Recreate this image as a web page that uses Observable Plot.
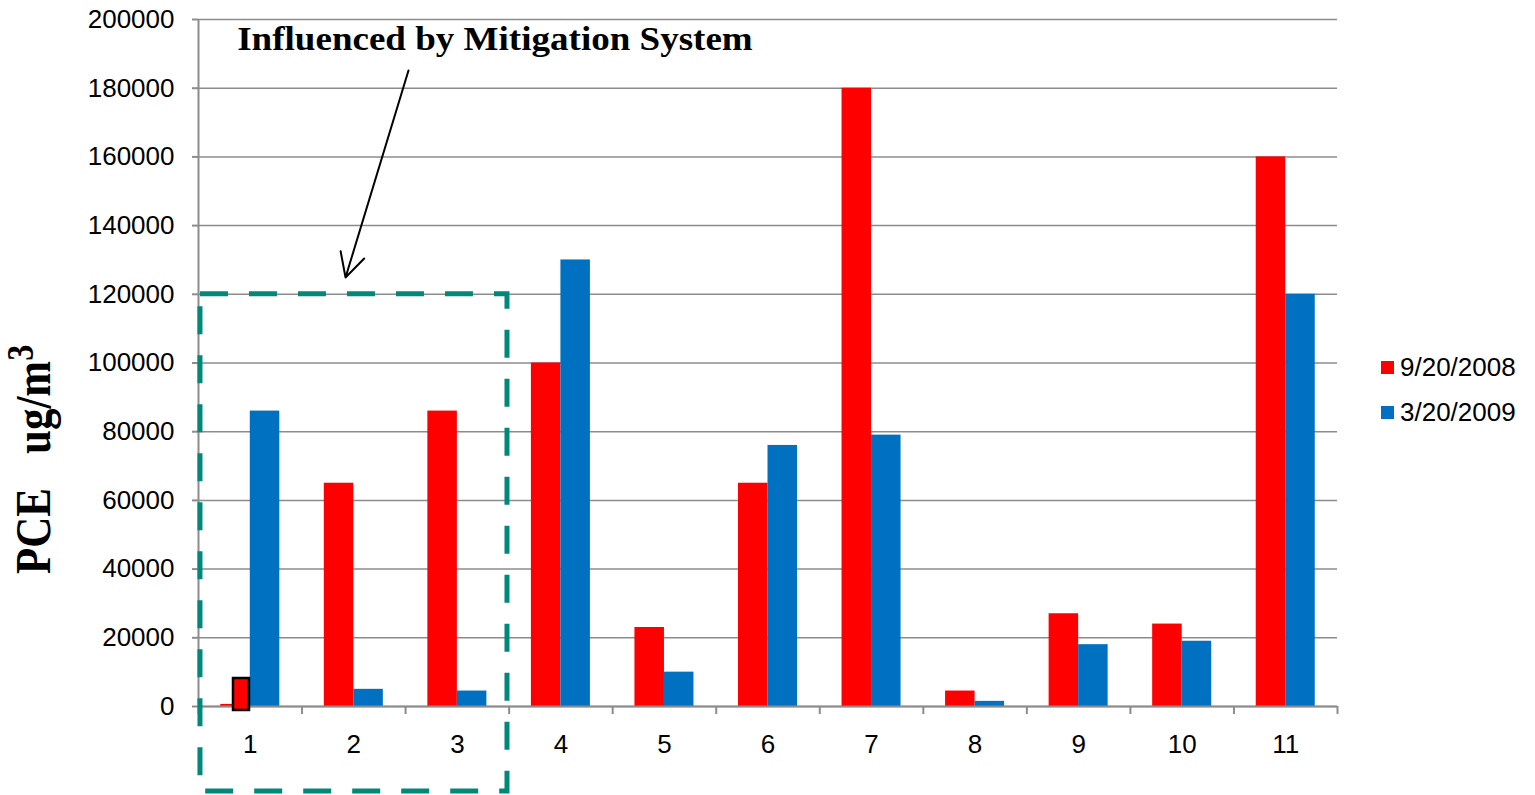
<!DOCTYPE html>
<html>
<head>
<meta charset="utf-8">
<script src="https://cdn.jsdelivr.net/npm/d3@7"></script>
<script src="https://cdn.jsdelivr.net/npm/@observablehq/plot@0.6"></script>
<style>
  html, body { margin: 0; padding: 0; background: #fff; }
  #wrap { position: relative; width: 1535px; height: 795px; }
  .legend { position: absolute; left: 1381px; font-family: "Liberation Sans", Arial, sans-serif; font-size: 26px; color: #000; display: flex; align-items: center; }
  .legend span.sw { display: inline-block; width: 13px; height: 13px; margin-right: 6px; }
</style>
</head>
<body>
<div id="wrap"></div>
<script>
const categories = [1, 2, 3, 4, 5, 6, 7, 8, 9, 10, 11];
const series = ["9/20/2008", "3/20/2009"];
const colors = ["#ff0000", "#0070c0"];
const values2008 = [600, 65000, 86000, 100000, 23000, 65000, 180000, 4500, 27000, 24000, 160000];
const values2009 = [86000, 5000, 4500, 130000, 10000, 76000, 79000, 1500, 18000, 19000, 120000];
const yTicks = [0, 20000, 40000, 60000, 80000, 100000, 120000, 140000, 160000, 180000, 200000];
const annotationText = "Influenced by Mitigation System";
const annotationPos = {x: 3.368, y: 191000};

const barHalf = 0.285;
const rows = [];
categories.forEach((c, i) => {
  rows.push({cat: c, series: series[0], value: values2008[i], x1: c - barHalf, x2: c});
  rows.push({cat: c, series: series[1], value: values2009[i], x1: c, x2: c + barHalf});
});

const boundaries = d3.range(0.5, categories.length + 1, 1);
const gray = "#8c8c8c";
const teal = "#00897b";

const plot = Plot.plot({
  width: 1535,
  height: 795,
  marginLeft: 198,
  marginRight: 198,
  marginTop: 19,
  marginBottom: 89,
  x: {domain: [0.5, categories.length + 0.5]},
  y: {domain: [0, 200000]},
  style: {fontFamily: "'Liberation Sans', Arial, sans-serif", fontSize: "26px", color: "#000", background: "#fff"},
  marks: [
    Plot.gridY(yTicks, {stroke: gray, strokeOpacity: 1, strokeWidth: 1.5}),
    Plot.rectY(rows, {x1: "x1", x2: "x2", y: "value", fill: "series"}),
    Plot.ruleY([0], {stroke: gray, strokeWidth: 2}),
    Plot.ruleX([0.5], {y1: 0, y2: 200000, stroke: gray, strokeWidth: 2}),
    Plot.axisY({ticks: yTicks, tickFormat: d3.format("d"), tickSize: 6, tickPadding: 18, stroke: gray, strokeWidth: 2, label: null, fontSize: 26}),
    Plot.axisX({ticks: boundaries, tickFormat: () => "", tickSize: 8, stroke: gray, strokeWidth: 2, label: null}),
    Plot.axisX({ticks: categories, tickFormat: d => String(d), tickSize: 0, tickPadding: 28, label: null, fontSize: 26}),
    // highlighted marker on the tiny first value
    Plot.rect([{x1: 0.838, x2: 0.9925, y1: -1160, y2: 8150}], {x1: "x1", x2: "x2", y1: "y1", y2: "y2", fill: "#ff0000", stroke: "#000", strokeWidth: 2.5, clip: false}),
    // dashed box
    Plot.rect([{x1: 0.519, x2: 3.484, y1: -24745, y2: 120000}], {x1: "x1", x2: "x2", y1: "y1", y2: "y2", fill: "none", stroke: teal, strokeWidth: 5, strokeDasharray: "28,21", clip: false}),
    Plot.arrow([{x1: 2.528, y1: 185150, x2: 1.92, y2: 124890}], {x1: "x1", y1: "y1", x2: "x2", y2: "y2", stroke: "#000", strokeWidth: 2, headLength: 20, headAngle: 55, clip: false})
  ],
  color: {domain: series, range: colors}
});

const svg = d3.select(plot);
const serif = "'Liberation Serif', 'Times New Roman', serif";

// annotation title, positioned through the plot's scales
const tx = plot.scale("x").apply(annotationPos.x);
const ty = plot.scale("y").apply(annotationPos.y);
svg.append("text")
  .attr("transform", `translate(${tx},${ty}) scale(1.09,1)`)
  .attr("font-family", serif)
  .attr("font-weight", "bold")
  .attr("font-size", 34)
  .attr("fill", "#000")
  .attr("text-anchor", "middle")
  .text(annotationText);

// y-axis label with superscript
const lab = svg.append("text")
  .attr("transform", "translate(50,574) rotate(-90) scale(1,1.2)")
  .attr("font-family", serif)
  .attr("font-weight", "bold")
  .attr("font-size", 43)
  .attr("fill", "#000")
  .attr("text-anchor", "start");
lab.append("tspan").text("PCE");
lab.append("tspan").attr("dx", 34).text("ug/m");
lab.append("tspan").attr("font-size", 32).attr("dy", -14).text("3");

const wrap = document.getElementById("wrap");
wrap.appendChild(plot);
series.forEach((s, i) => {
  const div = document.createElement("div");
  div.className = "legend";
  div.style.top = (352 + i * 45) + "px";
  div.innerHTML = `<span class="sw" style="background:${colors[i]}"></span><span>${s}</span>`;
  wrap.appendChild(div);
});
</script>
</body>
</html>
